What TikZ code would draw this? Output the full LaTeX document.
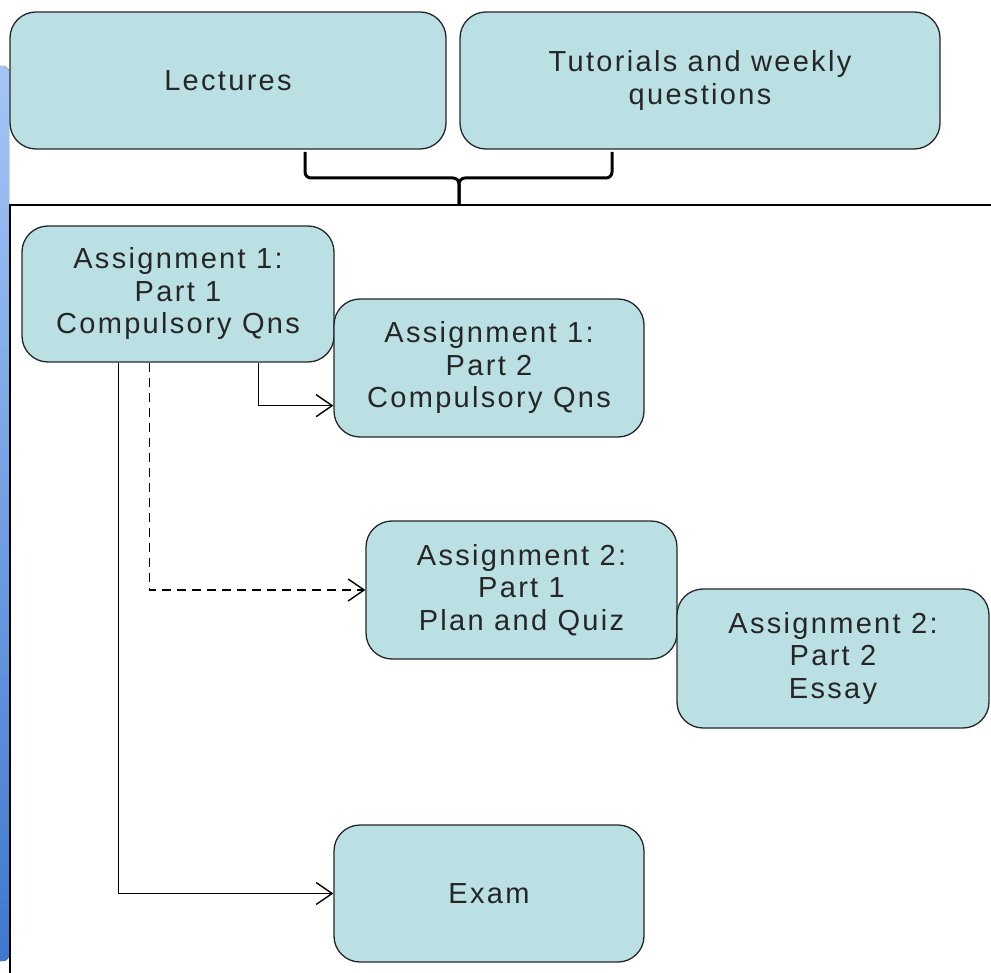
\documentclass[tikz,border=0pt]{standalone}
\usepackage{fontspec}
\setmainfont{Liberation Sans}[LetterSpace=8]
\usetikzlibrary{calc, arrows.meta}
\definecolor{boxfill}{HTML}{BBE0E3}
\definecolor{bartop}{HTML}{A4C6F6}
\definecolor{barbot}{HTML}{3F78CE}

\tikzset{
  task/.style={draw=black!85, line width=1.3pt, fill=boxfill, rounded corners=26pt,
    inner sep=0pt, align=center, text=black!85,
    font=\fontsize{29pt}{32.5pt}\selectfont},
  link/.style={line width=1.4pt, -{Straight Barb[length=16pt,width=22pt,line width=1.4pt]}}
}

\begin{document}
\begin{tikzpicture}[x=1pt,y=-1pt]
  \useasboundingbox (0,0) rectangle (991,973);
  \fill[top color=bartop, bottom color=barbot, rounded corners=6pt] (-8,66) rectangle (9,961);

  \node[task, minimum width=436pt, minimum height=137pt] (lec) at (228,80.5) {Lectures};
  \node[task, minimum width=480pt, minimum height=137pt] (tut) at (700,80.5) {Tutorials and weekly\\questions};

  \draw[line width=1.4pt] (10,973) -- (10,205) -- (991,205);
  \draw[line width=3pt, rounded corners=6pt] (305,152) |- (459,178) -- (459,205);
  \draw[line width=3pt, rounded corners=6pt] (612,152) |- (459,178) -- (459,205);

  \node[task, minimum width=312pt, minimum height=136pt] (a1p1) at (178,294) {Assignment 1:\\Part 1\\Compulsory Qns};
  \node[task, minimum width=310pt, minimum height=138pt] (a1p2) at (489,368) {Assignment 1:\\Part 2\\Compulsory Qns};
  \node[task, minimum width=311pt, minimum height=138pt] (a2p1) at (521.5,590) {Assignment 2:\\Part 1\\Plan and Quiz};
  \node[task, minimum width=312pt, minimum height=139pt] (a2p2) at (833,658.5) {Assignment 2:\\Part 2\\Essay};
  \node[task, minimum width=310pt, minimum height=137pt] (exam) at (489,893.5) {Exam};

  \draw[link] ($(a1p1.south west)+(237,0)$) |- ($(a1p2.south west)+(0,-32)$);
  \draw[link, dashed, dash pattern=on 9pt off 6pt] ($(a1p1.south west)+(128,0)$) |- (a2p1.west);
  \draw[link] ($(a1p1.south west)+(97,0)$) |- (exam.west);
\end{tikzpicture}
\end{document}
